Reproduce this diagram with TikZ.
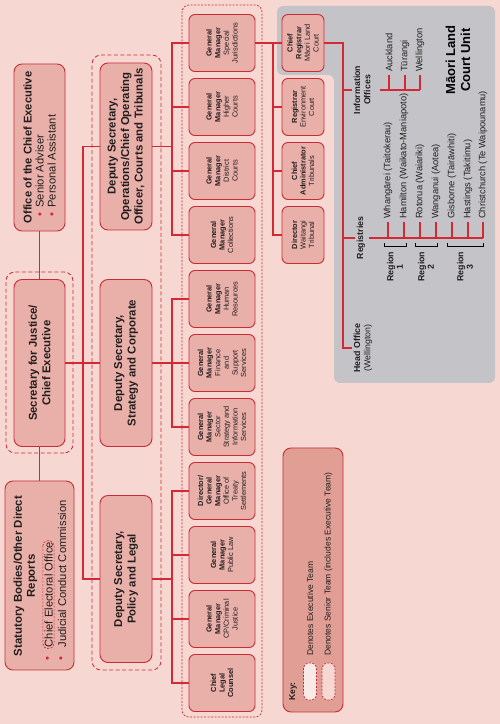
\documentclass[tikz,border=0pt]{standalone}
\usepackage{fontspec}
\setmainfont{Liberation Sans}

\definecolor{pagepink}{RGB}{246,215,209}
\definecolor{boxpink}{RGB}{233,176,170}
\definecolor{keypink}{RGB}{224,158,148}
\definecolor{edgered}{RGB}{200,45,55}
\definecolor{linkred}{RGB}{212,40,52}
\definecolor{unitgrey}{RGB}{196,196,200}
\definecolor{execwhite}{RGB}{248,234,230}
\definecolor{inkgrey}{RGB}{35,30,30}

\newcommand{\gmhead}{\textbf{General}\\\textbf{Manager}}
\newcommand{\redbullet}{\textcolor{linkred}{\textbullet}}

\begin{document}
\begin{tikzpicture}[
    x=1pt, y=1pt,
    headbox/.style={rectangle, rounded corners=8pt, draw=edgered, fill=boxpink, line width=0.9pt, minimum width=167pt, minimum height=51pt, align=center, text=inkgrey, font=\fontsize{11.4}{13.5}\selectfont\bfseries},
    gmbox/.style={rectangle, rounded corners=6pt, draw=edgered, fill=boxpink, line width=0.9pt, minimum width=57pt, minimum height=66pt, inner sep=1pt, align=center, text=inkgrey, font=\fontsize{7.4}{8.6}\selectfont},
    unitbox/.style={gmbox, minimum height=42pt},
    exteam/.style={draw=edgered, line width=0.8pt, dash pattern=on 4pt off 2.5pt, rounded corners=9pt},
    srteam/.style={draw=edgered, line width=0.7pt, dash pattern=on 2pt off 1.5pt, rounded corners=7pt},
    conn/.style={draw=linkred, line width=1.3pt},
    bracket/.style={draw=black, line width=1pt},
    bultext/.style={font=\fontsize{11.2}{12}\selectfont, text=inkgrey, inner sep=1.5pt, anchor=west},
    branchlbl/.style={font=\fontsize{8.8}{10.2}\selectfont\bfseries, align=center, text=inkgrey, inner sep=1.5pt},
    regionlbl/.style={branchlbl, anchor=east, font=\fontsize{8.8}{9.6}\selectfont\bfseries},
    place/.style={font=\fontsize{9.3}{10}\selectfont, text=inkgrey, inner sep=3pt, anchor=west},
    keytext/.style={font=\fontsize{8.5}{10}\selectfont, text=inkgrey, inner sep=1pt, anchor=west},
    swatch/.style={rectangle, rounded corners=5pt, draw=edgered, line width=0.7pt, dash pattern=on 2pt off 1.5pt, minimum width=37pt, minimum height=13pt, inner sep=0pt}
]
\begin{scope}[rotate=90, transform shape]

% Page and unit panel
\fill[pagepink] (0,-500) rectangle (724,0);
\fill[unitgrey, rounded corners=6pt] (341,-495) -- (718,-495) -- (718,-277) -- (649,-277) -- (649,-334) -- (341,-334) -- cycle;

% Top row
\node[headbox, align=left, font=\fontsize{11.2}{12}\selectfont] (ceo) at (576.5,-39.5) {\textbf{Office of the Chief Executive}\\\hspace*{7pt}\redbullet\hspace{5pt}Senior Adviser\\\hspace*{7pt}\redbullet\hspace{5pt}Personal Assistant};
\node[headbox] (sec) at (361,-39.5) {Secretary for Justice/\\Chief Executive};
\node[headbox, minimum width=189pt, minimum height=69pt] (stat) at (148.5,-39.5) {};
\node[align=center, text=inkgrey, font=\fontsize{11.4}{13}\selectfont\bfseries] (stathd) at (148,-25.5) {Statutory Bodies/Other Direct\\Reports};
\node[bultext, draw=edgered, line width=0.7pt, dash pattern=on 2pt off 1.5pt, rounded corners=5pt] (elec) at (75,-48.5) {Chief Electoral Office};
\node[bultext] (judc) at (75,-62) {Judicial Conduct Commission};
\node[bultext, inner sep=0pt] (elecdot) at (63.5,-48.5) {\redbullet};
\node[bultext, inner sep=0pt] (judcdot) at (63.5,-62) {\redbullet};

% Deputy Secretaries
\node[headbox, minimum height=52pt] (pol) at (145,-126) {Deputy Secretary,\\Policy and Legal};
\node[headbox, minimum height=52pt] (strat) at (361,-126) {Deputy Secretary,\\Strategy and Corporate};
\node[headbox, minimum height=52pt] (ops) at (577.5,-126) {Deputy Secretary,\\Operations/Chief Operating\\Officer, Courts and Tribunals};

% General Managers
\node[gmbox] (gmsj) at (681,-222) {\gmhead\\Special\\Jurisdictions};
\node[gmbox] (gmhc) at (617,-222) {\gmhead\\Higher\\Courts};
\node[gmbox] (gmdc) at (553,-222) {\gmhead\\District\\Courts};
\node[gmbox] (gmcol) at (489,-222) {\gmhead\\Collections};
\node[gmbox] (gmhr) at (425,-222) {\gmhead\\Human\\Resources};
\node[gmbox] (gmfin) at (361,-222) {\gmhead\\Finance\\and\\Support\\Services};
\node[gmbox] (gmssi) at (297,-222) {\gmhead\\Sector\\Strategy and\\Information\\Services};
\node[gmbox] (gmots) at (233,-222) {\textbf{Director/}\\\textbf{General}\\\textbf{Manager}\\Office of\\Treaty\\Settlements};
\node[gmbox] (gmpl) at (169,-222) {\gmhead\\Public Law};
\node[gmbox] (gmcpc) at (105,-222) {\gmhead\\CP/Criminal\\Justice};
\node[gmbox] (clc) at (41,-222) {\textbf{Chief}\\\textbf{Legal}\\\textbf{Counsel}};

% Special Jurisdictions units
\node[unitbox] (creg) at (681,-303) {\textbf{Chief}\\\textbf{Registrar}\\Māori Land\\Court};
\node[unitbox] (regenv) at (617,-303) {\textbf{Registrar}\\Environment\\Court};
\node[unitbox] (cadmin) at (553,-303) {\textbf{Chief}\\\textbf{Administrator}\\Tribunals};
\node[unitbox] (dirwt) at (489,-303) {\textbf{Director}\\Waitangi\\Tribunal};

% Team frames
\draw[exteam] (271,-73) rectangle (452,-6);
\draw[exteam] (54,-161) rectangle (669,-92);
\draw[srteam] (7,-262) rectangle (719,-182);

% Bus levels
\coordinate (dbus) at (0,-83);
\coordinate (gbus) at (0,-172);
\coordinate (mbus) at (0,-273);
\coordinate (mspine) at (0,-343);

\draw[conn] (stat.east) -- (sec.west);
\draw[conn] (sec.east) -- (ceo.west);
\draw[conn] (sec.south) -- (sec.south |- dbus);
\draw[conn] (pol.north) |- (ops.north |- dbus) -- (ops.north);
\draw[conn] (strat.north) -- (strat.north |- dbus);

\draw[conn] (ops.south) -- (ops.south |- gbus);
\draw[conn] (gmcol.north) |- (gmsj.north |- gbus) -- (gmsj.north);
\draw[conn] (gmhc.north) -- (gmhc.north |- gbus);
\draw[conn] (gmdc.north) -- (gmdc.north |- gbus);
\draw[conn] (strat.south) -- (gmfin.north);
\draw[conn] (gmssi.north) |- (gmhr.north |- gbus) -- (gmhr.north);
\draw[conn] (pol.south) -- (pol.south |- gbus);
\draw[conn] (clc.north) |- (gmots.north |- gbus) -- (gmots.north);
\draw[conn] (gmpl.north) -- (gmpl.north |- gbus);
\draw[conn] (gmcpc.north) -- (gmcpc.north |- gbus);

\draw[conn] (gmsj.south) -- (creg.north);
\draw[conn] (gmsj.south |- mbus) -| (dirwt.north);
\draw[conn] (regenv.north) -- (regenv.north |- mbus);
\draw[conn] (cadmin.north) -- (cadmin.north |- mbus);

% Maori Land Court Unit
\node[align=center, text=black, font=\fontsize{13}{15}\selectfont\bfseries] (mlcu) at (664,-458) {Māori Land\\Court Unit};

\coordinate (hoend) at (376,-352);
\coordinate (regend) at (486,-355);
\coordinate (infend) at (634,-352);
\draw[conn] (creg.south) |- (hoend |- mspine) -- (hoend);
\draw[conn] (regend |- mspine) -- (regend);
\draw[conn] (infend |- mspine) -- (infend);

\node[branchlbl, anchor=north] (hohd) at (hoend) {Head Office\\\mdseries(Wellington)};
\node[branchlbl, anchor=north] (reghd) at (regend) {Registries};
\node[branchlbl, anchor=north] (infhd) at (infend) {Information\\Offices};

% Information offices
\coordinate (itop) at (634,-380);
\node[place] (akl) at (649,-389) {Auckland};
\node[place] (trg) at (649,-405) {Tūrangi};
\node[place] (wlg) at (649,-420) {Wellington};
\draw[conn] (itop) -- (itop |- wlg.west);
\draw[conn] (itop |- akl.west) -- (akl.west);
\draw[conn] (itop |- trg.west) -- (trg.west);
\draw[conn] (itop |- wlg.west) -- (wlg.west);

% Registries
\coordinate (rtop) at (486,-369);
\node[place] (rwhg) at (502,-388) {Whangārei (Taitokerau)};
\node[place] (rham) at (502,-404) {Hamilton (Waikato-Maniapoto)};
\node[place] (rrot) at (502,-420) {Rotorua (Waiariki)};
\node[place] (rwan) at (502,-436) {Wanganui (Aotea)};
\node[place] (rgis) at (502,-452) {Gisborne (Tairāwhiti)};
\node[place] (rhas) at (502,-468) {Hastings (Takitimu)};
\node[place] (rchc) at (502,-483) {Christchurch (Te Waipounamu)};
\draw[conn] (rtop) -- (rtop |- rchc.west);
\draw[conn] (rtop |- rwhg.west) -- (rwhg.west);
\draw[conn] (rtop |- rham.west) -- (rham.west);
\draw[conn] (rtop |- rrot.west) -- (rrot.west);
\draw[conn] (rtop |- rwan.west) -- (rwan.west);
\draw[conn] (rtop |- rgis.west) -- (rgis.west);
\draw[conn] (rtop |- rhas.west) -- (rhas.west);
\draw[conn] (rtop |- rchc.west) -- (rchc.west);

% Regions
\draw[bracket] (481,-384) -- (477,-384) -- (477,-406) -- (481,-406);
\draw[bracket] (481,-415) -- (477,-415) -- (477,-437) -- (481,-437);
\draw[bracket] (481,-447) -- (477,-447) -- (477,-483) -- (481,-483);
\node[regionlbl] (rg1) at (474,-395) {Region\\1};
\node[regionlbl] (rg2) at (474,-426) {Region\\2};
\node[regionlbl] (rg3) at (474,-465) {Region\\3};

% Key
\node[rectangle, rounded corners=8pt, draw=edgered, fill=keypink, line width=0.9pt, minimum width=264pt, minimum height=60pt] (key) at (144,-313) {};
\node[keytext, font=\fontsize{8.5}{10}\selectfont\bfseries] (keyhd) at (22,-293) {Key:};
\node[swatch, fill=execwhite] (keyexec) at (42.5,-310) {};
\node[swatch, fill=pagepink] (keysnr) at (42.5,-328.5) {};
\node[keytext] (keyexectxt) at (67,-310) {Denotes Executive Team};
\node[keytext] (keysnrtxt) at (67,-328.5) {Denotes Senior Team (includes Executive Team)};

\end{scope}
\end{tikzpicture}
\end{document}
